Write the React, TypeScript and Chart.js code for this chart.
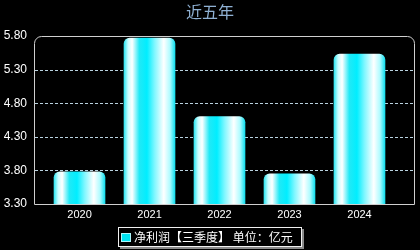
import React, { useEffect, useRef } from 'react';
import { Chart, registerables } from 'chart.js';

Chart.register(...registerables);

const years = ['2020', '2021', '2022', '2023', '2024'];
const profit = [3.78, 5.77, 4.6, 3.75, 5.53];
const yTicks = [3.3, 3.8, 4.3, 4.8, 5.3, 5.8];
const titleText = '近五年';
const seriesLabel = '净利润【三季度】 单位：亿元';

const FONT = "'Liberation Sans', 'Noto Sans CJK SC', sans-serif";
const CJK = "'Noto Sans CJK SC', 'Liberation Sans', sans-serif";

const deco = {
  id: 'deco',
  beforeDatasetsDraw(chart: any) {
    const { ctx, chartArea: a, scales } = chart;
    const y = scales.y;
    ctx.save();
    ctx.strokeStyle = '#b9d2e0';
    ctx.lineWidth = 1;
    ctx.setLineDash([3, 2]);
    yTicks.forEach((v) => {
      if (v <= y.min + 1e-9 || v >= y.max - 1e-9) return;
      const py = Math.round(y.getPixelForValue(v)) + 0.5;
      ctx.beginPath();
      ctx.moveTo(a.left, py);
      ctx.lineTo(a.right, py);
      ctx.stroke();
    });
    ctx.restore();
  },
  afterDatasetsDraw(chart: any) {
    const { ctx, chartArea: a } = chart;
    ctx.save();
    const l = a.left - 0.5, r = a.right - 0.5, t = a.top + 0.5, b = a.bottom + 0.5, rad = 7;
    ctx.strokeStyle = '#cfcfcf';
    ctx.lineWidth = 1;
    ctx.beginPath();
    ctx.moveTo(l, b);
    ctx.lineTo(l, t + rad);
    ctx.arcTo(l, t, l + rad, t, rad);
    ctx.lineTo(r - rad, t);
    ctx.arcTo(r, t, r, t + rad, rad);
    ctx.lineTo(r, b);
    ctx.closePath();
    ctx.stroke();
    ctx.restore();
  },
  afterDraw(chart: any) {
    const { ctx, width } = chart;
    ctx.save();
    // title
    ctx.font = `16px ${CJK}`;
    ctx.fillStyle = '#8fb1d3';
    ctx.textAlign = 'center';
    ctx.textBaseline = 'middle';
    ctx.fillText(titleText, width / 2, 12);
    // legend
    const label = chart.data.datasets[0].label as string;
    ctx.font = `12px ${CJK}`;
    const w = ctx.measureText(label).width;
    const bw = Math.round(w + 25);
    const bx = Math.round(width / 2 - bw / 2);
    const by = 227, bh = 20;
    ctx.fillStyle = '#8a8a8a';
    ctx.fillRect(bx + 2, by + 2, bw, bh);
    ctx.fillStyle = '#000';
    ctx.fillRect(bx, by, bw, bh);
    ctx.strokeStyle = '#f0f0f0';
    ctx.lineWidth = 1;
    ctx.strokeRect(bx + 0.5, by + 0.5, bw - 1, bh - 1);
    ctx.fillStyle = '#00e4f2';
    ctx.fillRect(bx + 3, by + 6, 10, 9);
    ctx.strokeStyle = '#aef6fb';
    ctx.strokeRect(bx + 3.5, by + 6.5, 9, 8);
    ctx.fillStyle = '#ffffff';
    ctx.textAlign = 'left';
    ctx.textBaseline = 'middle';
    ctx.fillText(label, bx + 16, by + bh / 2);
    ctx.restore();
  },
};

function barFill(c: any) {
  const chart = c.chart;
  const xs = chart.scales && chart.scales.x;
  if (!xs || c.dataIndex === undefined) return '#00f0ff';
  const cx = xs.getPixelForValue(c.dataIndex);
  if (!Number.isFinite(cx)) return '#00f0ff';
  const half = 25.5;
  const g = chart.ctx.createLinearGradient(cx - half, 0, cx + half, 0);
  g.addColorStop(0, '#2ee6f2');
  g.addColorStop(0.08, '#c8fdff');
  g.addColorStop(0.16, '#ffffff');
  g.addColorStop(0.3, '#22e9f6');
  g.addColorStop(0.45, '#00eeff');
  g.addColorStop(0.6, '#80f7ff');
  g.addColorStop(0.78, '#ffffff');
  g.addColorStop(0.9, '#b0fbff');
  g.addColorStop(1, '#10e0f0');
  return g;
}

export default function App() {
  const ref = useRef<HTMLCanvasElement>(null);
  useEffect(() => {
    if (!ref.current) return;
    const chart = new Chart(ref.current, {
      type: 'bar',
      data: {
        datasets: [
          {
            label: seriesLabel,
            data: profit.map((v, i) => ({ x: i, y: v })),
            backgroundColor: barFill,
            borderWidth: 0,
            barThickness: 51,
            base: 3.3,
            borderRadius: { topLeft: 6, topRight: 6, bottomLeft: 0, bottomRight: 0 },
            borderSkipped: false,
          } as any,
        ],
      },
      options: {
        responsive: false,
        animation: false,
        layout: { padding: { top: 36, right: 5, bottom: 26, left: 0 } },
        plugins: { legend: { display: false }, tooltip: { enabled: false }, title: { display: false } },
        scales: {
          x: {
            type: 'linear',
            offset: false,
            min: -0.636,
            max: 4.793,
            grid: { display: false, drawTicks: false },
            border: { display: false },
            afterBuildTicks: (s: any) => {
              s.ticks = years.map((_, i) => ({ value: i }));
            },
            afterFit: (s: any) => {
              s.height = 20;
            },
            ticks: {
              color: '#ffffff',
              font: { family: FONT, size: 11 },
              padding: 4,
              maxRotation: 0,
              autoSkip: false,
              callback: (v: any) => years[Math.round(Number(v))] ?? '',
            },
          },
          y: {
            min: 3.3,
            max: 5.8,
            grid: { display: false, drawTicks: false },
            border: { display: false },
            afterBuildTicks: (s: any) => {
              s.ticks = yTicks.map((v) => ({ value: v }));
            },
            afterFit: (s: any) => {
              s.width = 35;
            },
            ticks: {
              color: '#ffffff',
              font: { family: FONT, size: 12 },
              padding: 8,
              callback: (v: any) => Number(v).toFixed(2),
            },
          },
        },
      } as any,
      plugins: [deco],
    });
    return () => chart.destroy();
  }, []);
  return (
    <div style={{ position: 'fixed', left: 0, top: 0, width: 420, height: 250, background: '#000' }}>
      <canvas ref={ref} width={420} height={250} style={{ display: 'block' }} />
    </div>
  );
}
